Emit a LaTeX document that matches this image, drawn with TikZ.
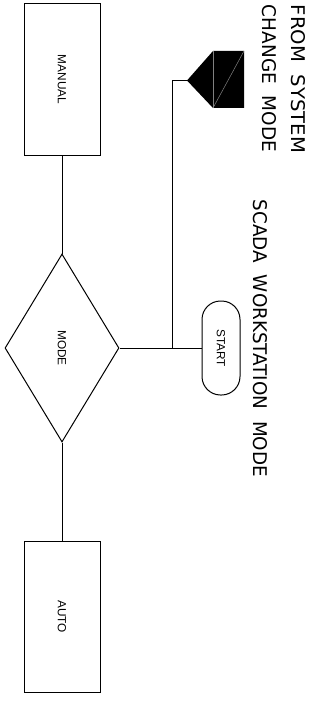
\documentclass[tikz,border=0pt]{standalone}
\usepackage{fontspec}
\setmainfont{Liberation Sans}
\newfontfamily\bigfont{DejaVu Sans}
\usetikzlibrary{shapes.geometric}
\begin{document}
\begin{tikzpicture}[x=1pt,y=-1pt,
  line width=1pt,
  boxnode/.style={draw, rectangle, minimum width=76pt, minimum height=151pt, inner sep=0pt, font=\fontsize{11.8}{12}\selectfont},
  decnode/.style={draw, diamond, minimum width=114pt, minimum height=188pt, inner sep=0pt, font=\fontsize{11.8}{12}\selectfont},
  termnode/.style={draw, rectangle, rounded corners=18.5pt, minimum width=38pt, minimum height=94pt, inner sep=0pt, font=\fontsize{11.8}{12}\selectfont},
  bigtext/.style={inner sep=0pt}]
\useasboundingbox (0,0) rectangle (321,706);

\node[boxnode] (manual) at (62,79.5) {\rotatebox{-90}{MANUAL}};
\node[decnode] (mode) at (62,348) {\rotatebox{-90}{MODE}};
\node[boxnode] (auto) at (62,616.5) {\rotatebox{-90}{AUTO}};
\node[termnode] (start) at (221,348) {\rotatebox{-90}{START}};

\coordinate (junc) at (172,348);
\coordinate (corner) at (172,80.5);
\coordinate (apex) at (187,80.5);

\draw (manual.south) -- (mode.north);
\draw (mode.south) -- (auto.north);
\draw (mode.east) -- (start.west);
\draw (junc) -- (corner) -- (apex);

% flag symbol
\fill[black] (apex) -- (213,51) -- (244,51) -- (244,108) -- (213,108) -- cycle;
\draw[gray, line width=0.5pt] (213,51) -- (213,108);
\draw[gray, line width=0.5pt] (244,51) -- (213,108);

\node[bigtext] (from) at (298.5,79) {\rotatebox{-90}{\resizebox{148pt}{14pt}{\bigfont FROM\ \ SYSTEM}}};
\node[bigtext] (change) at (269.5,78.5) {\rotatebox{-90}{\resizebox{147pt}{14pt}{\bigfont CHANGE\ \ MODE}}};
\node[bigtext] (scada) at (260.5,338.5) {\rotatebox{-90}{\resizebox{277pt}{14pt}{\bigfont SCADA\ \ WORKSTATION\ \ MODE}}};
\end{tikzpicture}
\end{document}
